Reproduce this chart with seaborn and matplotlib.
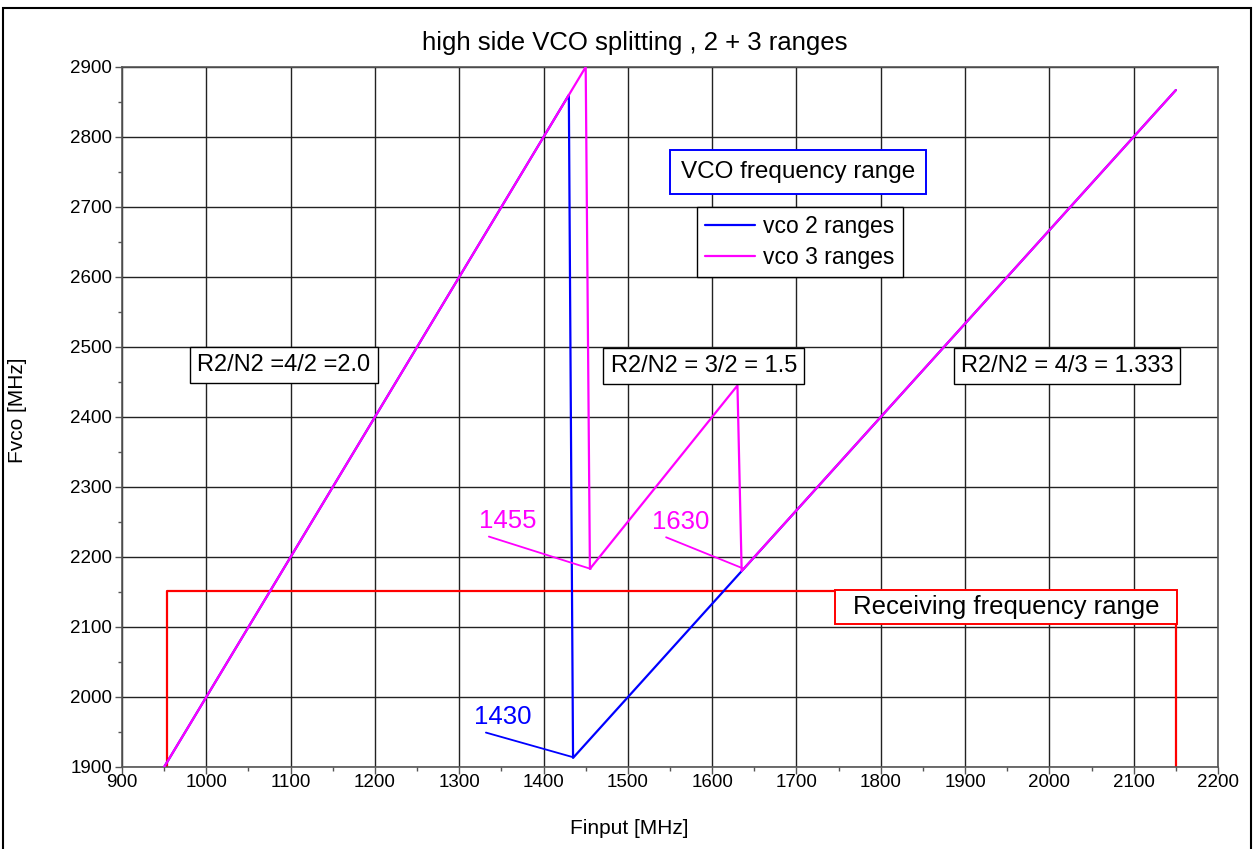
import matplotlib
matplotlib.use("Agg")
import matplotlib.pyplot as plt
from matplotlib.ticker import MultipleLocator
from matplotlib.patches import Rectangle
import seaborn as sns
import pandas as pd

# ---- data ----
fin_2 = [950, 1430, 1435, 2150]
fvco_2 = [1900, 2860, 1913, 2867]
fin_3 = [950, 1450, 1455, 1630, 1635, 2150]
fvco_3 = [1900, 2900, 2183, 2445, 2180, 2867]
rx_fin = [953, 953, 2150, 2150]
rx_fvco = [1880, 2152, 2152, 1880]
series_names = ["vco 2 ranges", "vco 3 ranges"]

sns.set_theme(style="white")
plt.rcParams['font.family'] = ['Liberation Sans', 'DejaVu Sans']
plt.rcParams.update({"text.color": "black", "axes.labelcolor": "black",
                     "xtick.color": "black", "ytick.color": "black"})

df = pd.concat([
    pd.DataFrame({"Finput": fin_2, "Fvco": fvco_2, "series": series_names[0]}),
    pd.DataFrame({"Finput": fin_3, "Fvco": fvco_3, "series": series_names[1]}),
])

fig = plt.figure(figsize=(12.54, 8.49), dpi=100)
ax = fig.add_axes([122/1254, 1-767/849, 1096/1254, 700/849])

# receiving range (red)
sns.lineplot(x=rx_fin, y=rx_fvco, ax=ax, color="#FF0000", lw=1.6, sort=False,
             estimator=None, legend=False, zorder=2)

sns.lineplot(data=df, x="Finput", y="Fvco", hue="series",
             sort=False, estimator=None, palette={"vco 2 ranges": "#0000FF", "vco 3 ranges": "#FF00FF"},
             lw=1.6, ax=ax, zorder=3)

ax.set_xlim(900, 2200)
ax.set_ylim(1900, 2900)
ax.xaxis.set_major_locator(MultipleLocator(100))
ax.yaxis.set_major_locator(MultipleLocator(100))
ax.xaxis.set_minor_locator(MultipleLocator(50))
ax.yaxis.set_minor_locator(MultipleLocator(50))
ax.grid(True, which="major", color="#222222", lw=1.0)
ax.set_axisbelow(True)
ax.tick_params(which="major", direction="out", length=5, width=1, color="#555555",
               labelcolor="black", labelsize=13.5, bottom=True, left=True, pad=2)
ax.tick_params(axis="x", which="major", pad=0)
ax.tick_params(which="minor", direction="out", length=3, width=1, color="#555555",
               bottom=True, left=True)
for s in ax.spines.values():
    s.set_color("#555555")
    s.set_linewidth(1.2)

ax.set_xlabel("Finput [MHz]", fontsize=15, color="black")
ax.xaxis.set_label_coords((629-122)/1096, -(819-767)/700)
ax.set_ylabel("Fvco [MHz]", fontsize=15, color="black")
ax.yaxis.set_label_coords(-(122-27)/1096, 0.51)
ax.set_title("high side VCO splitting , 2 + 3 ranges", fontsize=18.5, pad=12,
             x=(635-122)/1096, color="black")

# legend
leg = ax.legend(loc="upper left", bbox_to_anchor=((697-122)/1096, 1-(207-67)/700),
                fontsize=16.5, frameon=True, fancybox=False, framealpha=1,
                edgecolor="black", borderpad=0.35, handlelength=2.2, handletextpad=0.35,
                labelspacing=0.35, borderaxespad=0)
leg.get_frame().set_linewidth(1.0)
for t in leg.get_texts():
    t.set_color("black")

box = dict(boxstyle="square,pad=0.3", facecolor="white", edgecolor="black", lw=1.0)
ax.text(1092, 2474, "R2/N2 =4/2 =2.0", fontsize=17, ha="center", va="center", bbox=box, zorder=5)
ax.text(1590, 2473, "R2/N2 = 3/2 = 1.5", fontsize=17, ha="center", va="center", bbox=box, zorder=5)
ax.text(2021, 2473, "R2/N2 = 4/3 = 1.333", fontsize=17, ha="center", va="center", bbox=box, zorder=5)
ax.text(1702, 2750, "VCO frequency range", fontsize=17.5, ha="center", va="center", zorder=5,
        bbox=dict(boxstyle="square,pad=0.45", facecolor="white", edgecolor="#0000FF", lw=1.4))

# receiving range label box
ax.add_patch(Rectangle((1746, 2104), 2151 - 1746, 2153 - 2104, facecolor="white",
                       edgecolor="#FF0000", lw=1.4, zorder=4))
ax.text(1949, 2129, "Receiving frequency range", fontsize=18.5, ha="center", va="center", zorder=5)

# point labels with leader lines
ax.annotate("1455", xy=(1456, 2183), xytext=(1357, 2251), color="#FF00FF", fontsize=18.5,
            ha="center", va="center",
            arrowprops=dict(arrowstyle="-", color="#FF00FF", lw=1.3, shrinkA=0, shrinkB=0,
                            relpos=(0.0, 0.0)))
ax.annotate("1630", xy=(1636, 2184), xytext=(1563, 2250), color="#FF00FF", fontsize=18.5,
            ha="center", va="center",
            arrowprops=dict(arrowstyle="-", color="#FF00FF", lw=1.3, shrinkA=0, shrinkB=0,
                            relpos=(0.1, 0.0)))
ax.annotate("1430", xy=(1435, 1914), xytext=(1352, 1971), color="#0000FF", fontsize=18.5,
            ha="center", va="center",
            arrowprops=dict(arrowstyle="-", color="#0000FF", lw=1.3, shrinkA=0, shrinkB=0,
                            relpos=(0.0, 0.0)))

# figure border
fig.patches.append(Rectangle((3/1254, -0.01), 1-6/1254, 1.01-8/849, transform=fig.transFigure,
                             fill=False, edgecolor="black", lw=1.5))

fig.savefig("out.png", dpi=100)
